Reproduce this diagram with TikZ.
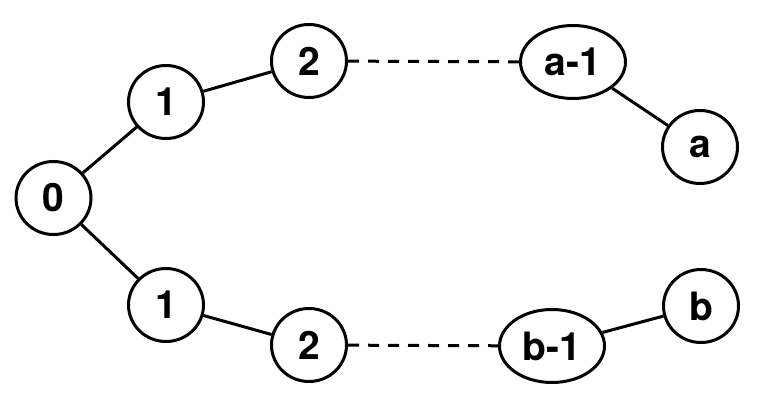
\documentclass[tikz,border=0pt]{standalone}
\usepackage{fontspec}
\setmainfont{TeX Gyre Heros}
\usetikzlibrary{shapes.geometric}
\begin{document}
\begin{tikzpicture}[x=1pt,y=-1pt,
  vert/.style={draw=black,line width=3pt,ellipse,inner sep=0pt,minimum width=75pt,minimum height=73pt,font=\fontsize{39}{39}\selectfont\bfseries},
  wide/.style={vert,minimum width=105pt,minimum height=73pt},
  edge/.style={line width=3pt,black},
  dashedge/.style={line width=3pt,black,dash pattern=on 11pt off 9pt}]
\useasboundingbox (0,0) rectangle (768,403);
\node[vert] (n0) at (53.5,198) {0};
\node[vert] (t1) at (166,102) {1};
\node[vert] (t2) at (309,61) {2};
\node[wide] (ta1) at (573,62) {a-1};
\node[vert] (ta) at (700,147) {a};
\node[vert] (b1) at (166,305) {1};
\node[vert] (b2) at (309,345) {2};
\node[wide] (bb1) at (552,346) {b-1};
\node[vert] (bb) at (701,306) {b};
\draw[edge] (n0) -- (t1);
\draw[edge] (t1) -- (t2);
\draw[dashedge] (t2) -- (ta1);
\draw[edge] (ta1) -- (ta);
\draw[edge] (n0) -- (b1);
\draw[edge] (b1) -- (b2);
\draw[dashedge] (b2) -- (bb1);
\draw[edge] (bb1) -- (bb);
\end{tikzpicture}
\end{document}
